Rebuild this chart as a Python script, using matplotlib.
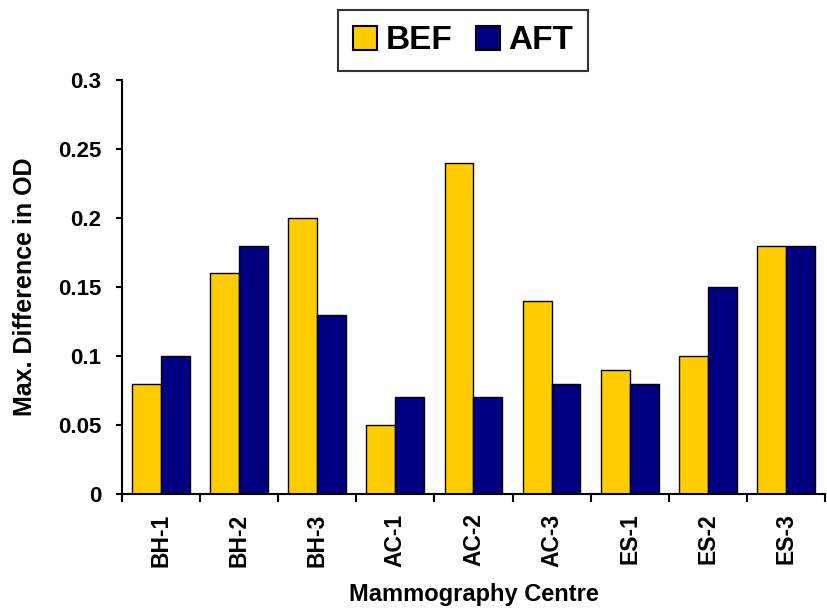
import matplotlib.pyplot as plt
import numpy as np

centres = ['BH-1', 'BH-2', 'BH-3', 'AC-1', 'AC-2', 'AC-3', 'ES-1', 'ES-2', 'ES-3']
bef = [0.08, 0.16, 0.20, 0.05, 0.24, 0.14, 0.09, 0.10, 0.18]
aft = [0.10, 0.18, 0.13, 0.07, 0.07, 0.08, 0.08, 0.15, 0.18]

plt.rcParams['font.family'] = ['Liberation Sans', 'DejaVu Sans']
plt.rcParams['font.weight'] = 'bold'

fig = plt.figure(figsize=(8.27, 6.08), dpi=100)
ax = fig.add_axes([0.1475, 0.1875, 0.85, 0.681])

x = np.arange(len(centres))
w = 0.37
ax.bar(x - w / 2, bef, width=w, color='#FFCC00', edgecolor='black', linewidth=1, label='BEF')
ax.bar(x + w / 2, aft, width=w, color='#000080', edgecolor='black', linewidth=1, label='AFT')

ax.set_xlim(-0.5, len(centres) - 0.5)
ax.set_ylim(0, 0.3)
ax.set_yticks([0, 0.05, 0.1, 0.15, 0.2, 0.25, 0.3])
ax.set_yticklabels(['0', '0.05', '0.1', '0.15', '0.2', '0.25', '0.3'], fontsize=16, fontweight='bold')

# category labels centred, tick marks at the group boundaries
ax.set_xticks(x)
ax.set_xticklabels(centres, rotation=90, fontsize=16.5, fontweight='bold')
ax.tick_params(axis='x', length=0, pad=14)
ax.set_xticks(np.arange(-0.5, len(centres)), minor=True)
ax.tick_params(axis='x', which='minor', length=6, width=1.5, direction='out')
ax.tick_params(axis='y', length=4.5, width=1.5, direction='out', pad=10.5)

for s in ['top', 'right']:
    ax.spines[s].set_visible(False)
for s in ['left', 'bottom']:
    ax.spines[s].set_linewidth(1.5)

ax.set_xlabel('Mammography Centre', fontsize=17, fontweight='bold')
ax.set_ylabel('Max. Difference in OD', fontsize=18, fontweight='bold')
ax.xaxis.set_label_coords(0.5, -0.215)
ax.yaxis.set_label_coords(-0.121, 0.5)

leg = fig.legend(loc='upper center', bbox_to_anchor=(0.56, 0.983), ncol=2, fontsize=24,
                 frameon=True, fancybox=False, edgecolor='black', handlelength=0.72,
                 handleheight=0.72, handletextpad=0.25, columnspacing=0.7, borderpad=0.45,
                 borderaxespad=0)
leg.get_frame().set_linewidth(1.5)
for t in leg.get_texts():
    t.set_fontweight('bold')
for h in leg.legend_handles:
    h.set_linewidth(1.5)

fig.savefig('out.png', dpi=100)
